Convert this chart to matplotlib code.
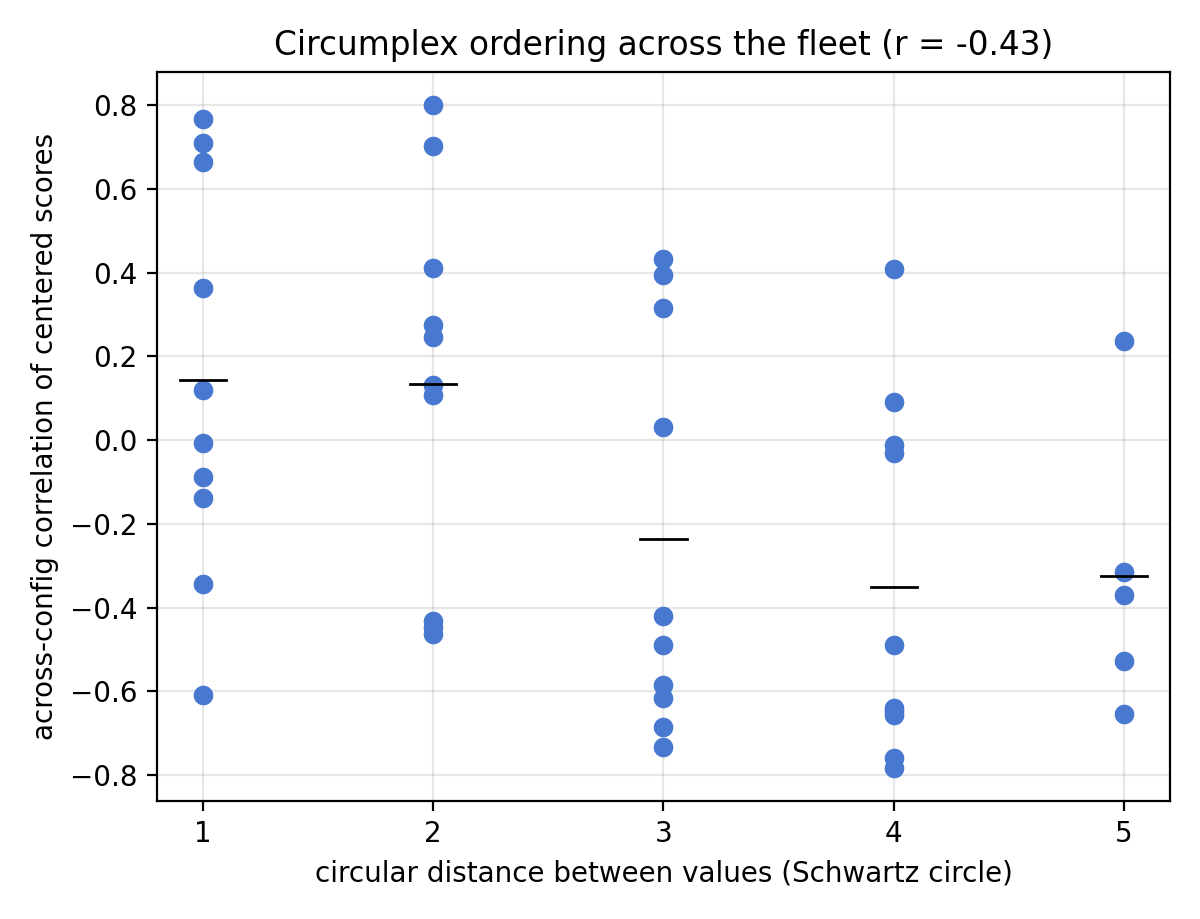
import numpy as np
import matplotlib
matplotlib.use("Agg")
import matplotlib.pyplot as plt

# correlations per circular distance
distances = [1, 2, 3, 4, 5]
d1 = [0.767, 0.710, 0.664, 0.362, 0.119, -0.007, -0.088, -0.138, -0.343, -0.610]
d2 = [0.800, 0.702, 0.412, 0.274, 0.247, 0.131, 0.107, -0.433, -0.446, -0.464]
d3 = [0.433, 0.393, 0.316, 0.030, -0.420, -0.490, -0.586, -0.617, -0.686, -0.734]
d4 = [0.409, 0.090, -0.012, -0.031, -0.490, -0.639, -0.648, -0.656, -0.760, -0.783]
d5 = [0.236, -0.314, -0.369, -0.527, -0.655]
groups = [d1, d2, d3, d4, d5]

fig = plt.figure(figsize=(6.0, 4.595), dpi=200)
ax = fig.add_axes([0.1308, 0.1284, 0.975 - 0.1308, 0.9217 - 0.1284])

for d, vals in zip(distances, groups):
    ax.scatter(np.full(len(vals), d), vals, s=50, color='#4878d0', linewidths=0, zorder=3)

for d, vals in zip(distances, groups):
    m = np.mean(vals)
    ax.plot([d - 0.1, d + 0.1], [m, m], color='black', lw=1, zorder=4)

ax.set_xlim(0.8, 5.2)
ax.set_xticks(distances)
ax.grid(True, alpha=0.3)
ax.set_xlabel("circular distance between values (Schwartz circle)")
ax.set_ylabel("across-config correlation of centered scores")
ax.set_title("Circumplex ordering across the fleet (r = -0.43)", fontsize=11.8)

fig.savefig("out.png", dpi=200)
